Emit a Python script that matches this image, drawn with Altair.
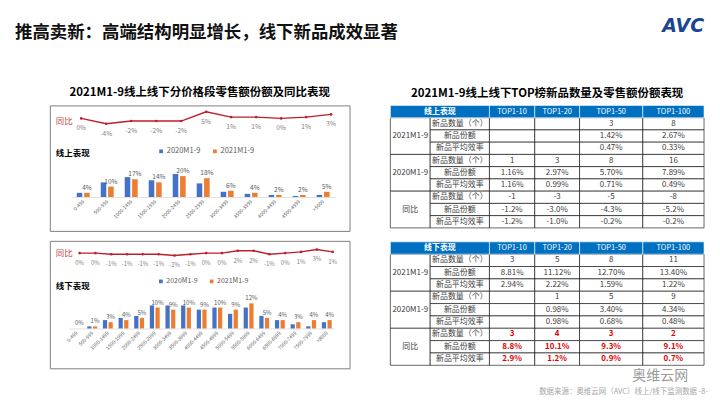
import altair as alt
import pandas as pd

FONT = "Noto Sans CJK SC"
RED = "#BE1E2D"
BLUE = "#4472C4"
ORANGE = "#ED7D31"
GRAY = "#595959"

SLIDE_TITLE = "推高卖新：高端结构明显增长，线下新品成效显著"
LEFT_TITLE = "2021M1-9线上线下分价格段零售额份额及同比表现"
RIGHT_TITLE = "2021M1-9线上线下TOP榜新品数量及零售额份额表现"
SOURCE = "数据来源：奥维云网（AVC）线上/线下监测数据   -8-"
SERIES = ["2020M1-9", "2021M1-9"]

ONLINE_CATS = ["0-499", "500-999", "1000-1499", "1500-1999", "2000-2499", "2500-2999",
               "3000-3499", "3500-3999", "4000-4499", "4500-4999", ">5000"]
ONLINE_2020 = [4, 14, 19, 16, 22, 13, 5, 3, 2, 1, 2]
ONLINE_2021 = [4, 10, 17, 14, 20, 18, 6, 4, 2, 2, 5]
ONLINE_YOY = [0, -4, -2, -2, -2, 5, 1, 1, 0, 1, 3]

OFFLINE_CATS = ["0-499", "500-999", "1000-1499", "1500-1999", "2000-2499", "2500-2999",
                "3000-3499", "3500-3999", "4000-4499", "4500-4999", "5000-5499", "5500-5999",
                "6000-6499", "6500-6999", "7000-7499", "7500-7999", ">8000"]
OFFLINE_2020 = [0, 1, 4, 5, 6, 11, 11, 11, 9, 10, 7, 10, 6, 4, 2, 1, 3]
OFFLINE_2021 = [0, 1, 3, 4, 5, 10, 9, 10, 9, 10, 9, 12, 5, 4, 3, 4, 4]
OFFLINE_YOY = [0, 0, -1, -1, -1, -1, -2, -1, 0, 0, 2, 2, -1, 0, 1, 3, 1]

TOP_COLS = ["TOP1-10", "TOP1-20", "TOP1-50", "TOP1-100"]
PERIODS = ["2021M1-9", "2020M1-9", "同比"]
METRICS = ["新品数量（个）", "新品份额", "新品平均效率"]

ONLINE_T_2021 = [["", "", "3", "8"], ["", "", "1.42%", "2.67%"], ["", "", "0.47%", "0.33%"]]
ONLINE_T_2020 = [["1", "3", "8", "16"], ["1.16%", "2.97%", "5.70%", "7.89%"], ["1.16%", "0.99%", "0.71%", "0.49%"]]
ONLINE_T_YOY = [["-1", "-3", "-5", "-8"], ["-1.2%", "-3.0%", "-4.3%", "-5.2%"], ["-1.2%", "-1.0%", "-0.2%", "-0.2%"]]

OFFLINE_T_2021 = [["3", "5", "8", "11"], ["8.81%", "11.12%", "12.70%", "13.40%"], ["2.94%", "2.22%", "1.59%", "1.22%"]]
OFFLINE_T_2020 = [["", "1", "5", "9"], ["", "0.98%", "3.40%", "4.34%"], ["", "0.98%", "0.68%", "0.48%"]]
OFFLINE_T_YOY = [["3", "4", "3", "2"], ["8.8%", "10.1%", "9.3%", "9.1%"], ["2.9%", "1.2%", "0.9%", "0.7%"]]

COL_W = [40, 59.5, 45.5, 45, 63.5, 61.5]


def spacer(w):
    return (alt.Chart(pd.DataFrame({"a": [0]}))
            .mark_point(opacity=0)
            .encode(x=alt.value(0), y=alt.value(0))
            .properties(width=w, height=1))


def note(text, x, y, size, color, weight="normal", align="left", style="normal", font=FONT):
    return (alt.Chart(pd.DataFrame({"t": [text]}))
            .mark_text(align=align, baseline="middle", fontSize=size, color=color,
                       fontWeight=weight, fontStyle=style, font=font)
            .encode(x=alt.value(x), y=alt.value(y), text="t:N"))


def price_panel(cats, v20, v21, yoy, tag, w, h, bar_dom, line_dom, bar_range, line_range,
                pad, off_pad, axis_off, leg_x, leg_y, tongbi_y, tag_y, lab_fs, leg_fs):
    n = len(cats)
    bars_df = pd.DataFrame({"cat": cats * 2,
                            "series": [SERIES[0]] * n + [SERIES[1]] * n,
                            "value": v20 + v21})
    lab_df = pd.DataFrame({"cat": cats, "series": [SERIES[1]] * n, "value": v21,
                           "label": [f"{v}%" for v in v21]})
    line_df = pd.DataFrame({"cat": cats, "yoy": yoy, "label": [f"{v}%" for v in yoy]})

    xb = alt.X("cat:N", sort=cats, title=None,
               scale=alt.Scale(domain=cats, range=bar_range, paddingInner=pad, paddingOuter=pad / 2),
               axis=alt.Axis(labelAngle=-45, labelAlign="right", labelBaseline="middle",
                             labelFontSize=5, labelColor=GRAY, labelPadding=3, ticks=False,
                             domainColor="#d9d9d9", domainWidth=0.8, offset=axis_off,
                             labelOverlap=False, grid=False, labelFont=FONT))
    yb = alt.Y("value:Q", scale=alt.Scale(domain=bar_dom, nice=False, zero=False), axis=None)
    xo = alt.XOffset("series:N", scale=alt.Scale(domain=SERIES, paddingInner=off_pad, paddingOuter=0))
    col = alt.Color("series:N", scale=alt.Scale(domain=SERIES, range=[BLUE, ORANGE]),
                    legend=alt.Legend(orient="none", legendX=leg_x, legendY=leg_y,
                                      direction="horizontal", title=None, symbolType="square",
                                      symbolSize=14, symbolStrokeWidth=0, labelFontSize=leg_fs,
                                      labelColor=GRAY, labelFont=FONT, columnPadding=10,
                                      labelOffset=2, padding=0))
    bars = alt.Chart(bars_df).mark_bar().encode(x=xb, xOffset=xo, y=yb, color=col)
    blabels = (alt.Chart(lab_df)
               .mark_text(baseline="bottom", dy=-2, fontSize=lab_fs, color=GRAY, font=FONT)
               .encode(x=alt.X("cat:N", sort=cats), xOffset=alt.XOffset("series:N"),
                       y=alt.Y("value:Q"), text="label:N"))
    bar_layer = alt.layer(bars, blabels)

    xl = alt.X("cat:N", sort=cats, scale=alt.Scale(domain=cats, range=line_range, padding=0.5), axis=None)
    yl = alt.Y("yoy:Q", scale=alt.Scale(domain=line_dom, nice=False, zero=False), axis=None)
    line = alt.Chart(line_df).mark_line(color=RED, strokeWidth=1.4).encode(x=xl, y=yl)
    pts = alt.Chart(line_df).mark_circle(color=RED, size=7, opacity=1).encode(x=xl, y=yl)
    llabels = (alt.Chart(line_df)
               .mark_text(dy=10, fontSize=lab_fs, color="#7f7f7f", font=FONT)
               .encode(x=xl, y=yl, text="label:N"))
    line_layer = alt.layer(line, pts, llabels)

    return (alt.layer(bar_layer, line_layer,
                      note("同比", 6, tongbi_y, 8.5, "#C8474B"),
                      note(tag, 6, tag_y, 8.5, "#000000", "bold"))
            .resolve_scale(x="independent", y="independent")
            .properties(width=w, height=h,
                        view=alt.ViewBackground(stroke="#7f7f7f", strokeWidth=1)))


def table_chart(head, t21, t20, tyoy, red, h):
    edges = [0]
    for wv in COL_W:
        edges.append(edges[-1] + wv)
    total = edges[-1]
    rows = [dict(kind="headtitle", x=edges[0], x2=edges[2], y=0, y2=1, text=head)]
    for j, c in enumerate(TOP_COLS):
        rows.append(dict(kind="head", x=edges[2 + j], x2=edges[3 + j], y=0, y2=1, text=c))
    for p, (per, block) in enumerate(zip(PERIODS, [t21, t20, tyoy])):
        r0 = 1 + 3 * p
        rows.append(dict(kind="group", x=edges[0], x2=edges[1], y=r0, y2=r0 + 3, text=per))
        for m, metric in enumerate(METRICS):
            r = r0 + m
            rows.append(dict(kind="metric", x=edges[1], x2=edges[2], y=r, y2=r + 1, text=metric))
            for j in range(4):
                k = "red" if (red and per == "同比") else "value"
                rows.append(dict(kind=k, x=edges[2 + j], x2=edges[3 + j], y=r, y2=r + 1, text=block[m][j]))
    df = pd.DataFrame(rows)
    df["xc"] = (df["x"] + df["x2"]) / 2
    df["yc"] = (df["y"] + df["y2"]) / 2

    base = alt.Chart(df)
    xs = alt.Scale(domain=[0, total], nice=False, zero=False)
    ys = alt.Scale(domain=[0, 10], nice=False, zero=False, reverse=True)
    enc_rect = dict(x=alt.X("x:Q", scale=xs, axis=None), x2="x2:Q",
                    y=alt.Y("y:Q", scale=ys, axis=None), y2="y2:Q")

    def flt(kinds):
        return base.transform_filter(alt.FieldOneOfPredicate(field="kind", oneOf=kinds))

    body_rect = flt(["group", "metric", "value", "red"]).mark_rect(
        fill="#ffffff", stroke="#000000", strokeWidth=0.6).encode(**enc_rect)
    head_rect = flt(["headtitle", "head"]).mark_rect(
        fill="#0070C0", stroke="#ffffff", strokeWidth=0.6).encode(**enc_rect)

    def txt(kinds, **kw):
        return flt(kinds).mark_text(font=FONT, baseline="middle", **kw).encode(
            x=alt.X("xc:Q", scale=xs, axis=None), y=alt.Y("yc:Q", scale=ys, axis=None),
            text="text:N")

    return alt.layer(
        body_rect, head_rect,
        txt(["headtitle"], fontSize=8, color="#ffffff", fontWeight="bold"),
        txt(["head"], fontSize=7.5, color="#ffffff"),
        txt(["group", "metric", "value"], fontSize=8, color="#404040"),
        txt(["red"], fontSize=8, color="#E00000", fontWeight="bold"),
    ).properties(width=315, height=h)


top_panel = price_panel(ONLINE_CATS, ONLINE_2020, ONLINE_2021, ONLINE_YOY, "线上表现",
                        301, 126, [-32.4, 87.6], [-84.9, 9.8], [21.5, 286.5], [19, 295],
                        0.46, 0.25, -34, 108, 42, 16, 48, 6.5, 7.5)
bottom_panel = price_panel(OFFLINE_CATS, OFFLINE_2020, OFFLINE_2021, OFFLINE_YOY, "线下表现",
                           301, 128, [-19.05, 41.9], [-96.4, 10.25], [19, 286], [22, 292],
                           0.37, 0.25, -40, 108, 37, 12, 45, 6, 7)

title_style = dict(fontSize=11.5, fontWeight="bold", anchor="middle", offset=6, color="#000000", font=FONT)

left_col = (alt.vconcat(top_panel, bottom_panel, spacing=8,
                        title=alt.TitleParams(text=LEFT_TITLE, **title_style))
            .resolve_scale(color="independent", xOffset="independent", x="independent", y="independent")
            .resolve_legend(color="independent"))

right_col = alt.vconcat(
    table_chart("线上表现", ONLINE_T_2021, ONLINE_T_2020, ONLINE_T_YOY, False, 123),
    table_chart("线下表现", OFFLINE_T_2021, OFFLINE_T_2020, OFFLINE_T_YOY, True, 124),
    spacing=12,
    title=alt.TitleParams(text=RIGHT_TITLE, **title_style))

body = alt.hconcat(spacer(38), left_col, spacer(36), right_col, spacing=0)

header = alt.layer(
    note(SLIDE_TITLE, 4, 24, 17.5, "#111111", "bold"),
    note("AVC", 675, 17, 19, "#1A4592", "bold", align="center", style="italic", font="DejaVu Sans"),
).properties(width=704, height=79)

footer = alt.layer(
    note("奥维云网", 652, 7, 14, "#9a9a9a", align="center"),
    note(SOURCE, 700, 23, 7.5, "#a6a6a6", align="right"),
).properties(width=704, height=28)

chart = (alt.vconcat(header, body, footer, spacing=0)
         .properties(padding=0)
         .configure(font=FONT, view=alt.ViewConfig(stroke=None)))

chart.save("out.html", embed_options={"renderer": "svg", "actions": False})
